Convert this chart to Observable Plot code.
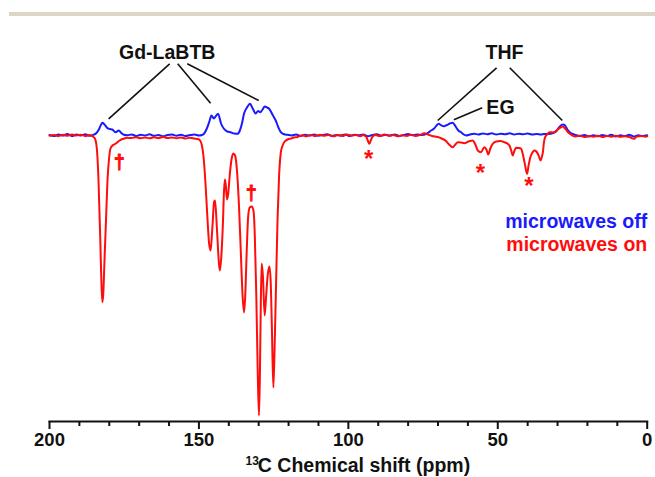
<!DOCTYPE html>
<html>
<head>
<meta charset="utf-8">
<script src="https://cdn.jsdelivr.net/npm/d3@7"></script>
<script src="https://cdn.jsdelivr.net/npm/@observablehq/plot@0.6"></script>
<style>
  html, body { margin: 0; padding: 0; background: #fff; }
  #wrap { position: relative; width: 655px; height: 477px; overflow: hidden; }
  #bar { position: absolute; top: 12px; left: 9px; width: 646px; height: 4px; background: #ddd6c6; }
  #chart { position: absolute; top: 0; left: 0; }
</style>
</head>
<body>
<div id="wrap"><div id="bar"></div><div id="chart"></div></div>
<script>
// 13C spectrum, microwaves off: [ppm, intensity (a.u.)]
const microwavesOff = [
  [200,0.5],[198.5,-0.5],[197,1],[195.5,0],[194,1.5],[192.5,-0.5],[191,1],[189.5,0],[188,1.2],[186.5,-0.3],
  [185.2,0.8],[184.3,2.5],[183.5,6],[182.8,10.5],[182.3,12.7],[181.6,11],[180.6,7.3],[179.8,6.5],[179,6],[177.9,3.3],
  [176.8,5],[176,2.5],[175.1,0.7],[174,0.2],[172.5,1],[171,-0.5],[169.5,0.8],[168,0],[166.5,1.2],[165,-0.3],
  [163.5,0.6],[162,-0.8],[160.5,0.5],[159,1],[157.5,-0.2],[156,0.7],[154.5,-0.5],[153,0.4],[151.5,1],[150,0],
  [149,0.5],[148.4,1.5],[147.5,6],[146.5,14],[145.8,20],[145,17],[144.3,19.5],[143.6,21.7],[142.6,12],[141.7,7],
  [140.5,4],[139.4,3.3],[138.2,2],[137.1,1.7],[136.3,5],[135.6,12],[134.9,22],[133.9,28],[132.9,31.7],[132,27],
  [131,22],[130.2,24.5],[129.5,23.3],[128.7,26],[128,29],[127.2,28],[126.5,26.7],[125.4,21],[124.3,15],[123.4,8],
  [122.6,3.3],[121.5,1.2],[120.4,0.7],[119,0],[117.5,1],[116,-0.5],[114.5,0.8],[113,0],[111.5,1],[110,-0.3],
  [108.5,0.5],[107,1.2],[105.5,-0.4],[104,0.6],[102.5,0],[101,1],[99.5,-0.5],[98,0.8],[96.5,0.2],[95,1],
  [93.5,-0.8],[92,0.5],[90.5,1.2],[89,-0.2],[87.5,0.7],[86,0],[84.5,1],[83,-0.5],[81.5,0.5],[80,1.5],
  [78.5,0.2],[77,1],[75.5,0.5],[74,1.5],[73.2,3],[72.3,5],[71.3,7],[70.5,10],[69.8,11.7],[68.8,10],
  [68,9.3],[67,10.5],[66,12],[65.1,12.7],[64.1,9],[63.2,5],[62.3,3.3],[61.4,1],[60.6,0],[59.5,0.8],
  [58,1.8],[56.5,1],[55,2],[53.5,1.2],[52,2.2],[50.5,1],[49,1.8],[47.5,1.2],[46,2.2],[44.5,1],
  [43,1.8],[41.5,1.2],[40,2],[38.5,1],[37,1.6],[35.5,1],[34.5,1.5],[33,1.5],[31.5,2.5],[30.5,4],
  [29.5,8],[28.7,10.5],[28.2,11],[27.5,10],[26.7,6],[25.8,3],[25,1.5],[24,0.5],[22.5,-0.5],[21,0.5],
  [19.5,-1],[18,0.3],[16.5,-0.8],[15,0.5],[13.5,-0.5],[12,0.8],[10.5,-1],[9,0.2],[7.5,-0.6],[6,0.8],
  [4.5,-1],[3,0.3],[1.5,-0.5],[0,0.2]
];

// 13C spectrum, microwaves on (DNP): [ppm, intensity (a.u.)]
const microwavesOn = [
  [200,-0.3],[198.5,0.5],[197,-0.5],[195.5,0.8],[194,-0.2],[192.5,1],[191,0],[189.5,0.8],[188,-0.5],[186.5,0.5],
  [185.5,-1],[184.8,-3],[184.2,-12],[183.6,-45],[183,-105],[182.6,-150],[182.3,-166.7],[182,-158],[181.6,-125],[181.1,-85],
  [180.6,-45],[180.1,-24],[179.6,-13],[178.9,-10],[177.9,-8.3],[177,-6],[176.2,-4.3],[175,-3],[174,-2.3],[172.5,-2.5],
  [171,-1.8],[169.5,-2.8],[168,-2],[166.5,-2.8],[165,-1.8],[163.5,-2.6],[162,-1.5],[160.5,-2.5],[159,-2],[157.5,-2.8],
  [156,-2],[154.5,-3],[153,-2.3],[151.5,-3],[150.3,-3.5],[149.6,-5],[149,-10],[148.5,-20],[147.8,-48],[147.2,-80],
  [146.6,-108],[146.1,-115],[145.5,-92],[144.9,-66],[144.6,-65],[144,-92],[143.3,-128],[143,-135],[142.6,-125],[142,-90],
  [141.6,-55],[141.3,-44],[141,-50],[140.6,-64],[140.2,-58],[139.7,-40],[139.1,-24],[138.5,-18],[137.9,-20],[137.3,-34],
  [136.6,-70],[136,-115],[135.4,-160],[134.9,-177],[134.5,-160],[134,-115],[133.5,-80],[133,-72],[132.3,-71],[131.7,-76],
  [131.3,-100],[130.8,-160],[130.3,-240],[129.9,-280],[129.6,-240],[129.3,-170],[129,-128],[128.6,-140],[128,-180],[127.5,-160],
  [127,-140],[126.4,-131],[126,-145],[125.6,-190],[125.1,-252],[124.7,-215],[124.2,-150],[123.7,-85],[123.2,-42],[122.6,-17],
  [122,-10],[121.3,-6],[120.3,-4],[119.2,-3],[118.2,-2],[117,-1.5],[115.5,0.3],[114,-0.8],[112.5,0.5],[111,-0.5],
  [109.5,0.8],[108,-0.3],[106.5,0.6],[105,-0.8],[103.5,0.4],[102,-0.5],[100.5,1],[99,0],[97.5,0.5],[96,-0.8],
  [95,0.5],[94,-1.5],[93.5,-5],[93,-8.3],[92.5,-5],[92,-1.5],[91,0.5],[89.5,-0.6],[88,1],[86.5,-0.4],
  [85,0.6],[83.5,-0.8],[82,0.3],[80.5,-0.5],[79,0.8],[77.5,-0.5],[76,0.5],[74.5,2.3],[73.3,1],[72,-0.5],
  [71,-1],[69.8,-1.7],[68.8,-3],[67.5,-5],[66.3,-9],[65.1,-11.7],[64.2,-9],[63.4,-6.7],[62.3,-7],[61.2,-7.7],
  [59.8,-6],[58.4,-5],[57.5,-9],[56.7,-15],[55.6,-16.7],[54.5,-11.7],[53.8,-14],[53.2,-19],[52.5,-13],[51.7,-8.3],
  [50.5,-6],[49.2,-5.5],[47.8,-6.7],[46.8,-8],[46.1,-10],[45.5,-15],[45,-20],[44.4,-15],[43.9,-12.3],[42.9,-12.5],
  [42.2,-13.3],[41.6,-19],[41.1,-26],[40.6,-34],[40.2,-38.3],[39.7,-30],[39.1,-21.7],[38.4,-17],[37.7,-15],[37.1,-16],
  [36.6,-18.3],[36.1,-22],[35.7,-25],[35.3,-22],[34.9,-16.7],[34.6,-8],[34.2,-2],[33.5,1],[32.7,3.3],[31.5,3],
  [30.5,4.5],[29.5,7],[28.7,8.5],[28.2,9],[27.5,7],[26.7,4],[25.8,1.5],[25,0],[24,-1],[22.5,-0.3],
  [21,-1.5],[19.5,-0.5],[18,-1.2],[16.5,-0.3],[15,-1.5],[13.5,-0.5],[12,-1.2],[10.5,-0.3],[9,-1.3],[7.5,-0.8],
  [6,-1.5],[4.4,-3.3],[3.5,-1],[2,-0.5],[0.5,-1.2],[0,-0.8]
];

// Axis ticks
const majorTicks = [0, 50, 100, 150, 200];
const minorTicks = [10, 20, 30, 40, 60, 70, 80, 90, 110, 120, 130, 140, 160, 170, 180, 190];
const axisTitleSup = "13";
const axisTitleMain = "C Chemical shift (ppm)";

// Annotation labels (ppm, intensity)
const peakLabels = [
  {text: "Gd-LaBTB", ppm: 160.6, v: 77},
  {text: "THF", ppm: 47.75, v: 76.7},
  {text: "EG", ppm: 49.1, v: 21.7}
];
// Leader lines (ppm1, v1) -> (ppm2, v2)
const leaders = [
  {p1: 159.8, v1: 71.7, p2: 180.2, v2: 16.7},
  {p1: 157.1, v1: 71.7, p2: 146.1, v2: 32.3},
  {p1: 153.9, v1: 71.7, p2: 130.0, v2: 35},
  {p1: 50.4, v1: 67.7, p2: 70.1, v2: 15},
  {p1: 46.0, v1: 67.7, p2: 28.4, v2: 15},
  {p1: 55.2, v1: 27.7, p2: 64.7, v2: 15.7}
];
const daggers = [{ppm: 176.6, v: -27}, {ppm: 132.5, v: -58}];
const asterisks = [{ppm: 93.2, v: -18.3}, {ppm: 55.8, v: -32}, {ppm: 39.6, v: -45}];
const legendItems = [
  {text: "microwaves off", color: "#1a1aff", v: -92.3},
  {text: "microwaves on", color: "#ff0d0d", v: -115}
];

const BLUE = "#1a1aff", RED = "#ff0d0d";

const chart = Plot.plot({
  width: 655,
  height: 477,
  marginLeft: 49,
  marginRight: 8.3,
  marginTop: 20,
  marginBottom: 56,
  style: {fontFamily: "'Liberation Sans', Arial, sans-serif", background: "transparent", overflow: "visible"},
  x: {domain: [200, 0]},
  y: {domain: [-286, 115], axis: null},
  marks: [
    Plot.line(microwavesOff, {x: d => d[0], y: d => d[1], stroke: BLUE, strokeWidth: 2, curve: "monotone-x"}),
    Plot.line(microwavesOn, {x: d => d[0], y: d => d[1], stroke: RED, strokeWidth: 2, curve: "monotone-x"}),
    Plot.link(leaders, {x1: "p1", y1: "v1", x2: "p2", y2: "v2", stroke: "#111", strokeWidth: 1.6}),
    Plot.text(peakLabels, {x: "ppm", y: "v", text: "text", lineAnchor: "bottom", fontSize: 19.5, fontWeight: "bold", fill: "#111"}),
    Plot.text(daggers, {x: "ppm", y: "v", text: () => "†", lineAnchor: "middle", fontSize: 20, fontWeight: "bold", fill: RED, stroke: RED, strokeWidth: 0.8}),
    Plot.text(asterisks, {x: "ppm", y: "v", text: () => "*", lineAnchor: "middle", dy: 6, fontSize: 24, fontWeight: "bold", fill: RED}),
    Plot.text(legendItems, {x: () => 0, y: "v", text: "text", fill: "color", textAnchor: "end", lineAnchor: "bottom", fontSize: 19.5, fontWeight: "bold"}),
    Plot.frame({anchor: "bottom", stroke: "#111", strokeWidth: 2}),
    Plot.axisX(minorTicks, {tickSize: 5, tickFormat: () => "", stroke: "#111", strokeWidth: 2}),
    Plot.axisX(majorTicks, {tickSize: 8, tickPadding: 3, fontSize: 18.5, fontWeight: "bold", fill: "#111", stroke: "#111", strokeWidth: 2, label: null}),
    Plot.text([axisTitleSup], {x: () => 134.4, y: () => -286, dy: 43, text: d => d, textAnchor: "start", lineAnchor: "bottom", fontSize: 12, fontWeight: "bold", fill: "#111"}),
    Plot.text([axisTitleMain], {x: () => 130.3, y: () => -286, dy: 50, text: d => d, textAnchor: "start", lineAnchor: "bottom", fontSize: 19.5, fontWeight: "bold", fill: "#111"})
  ]
});
document.getElementById("chart").appendChild(chart);
</script>
</body>
</html>
